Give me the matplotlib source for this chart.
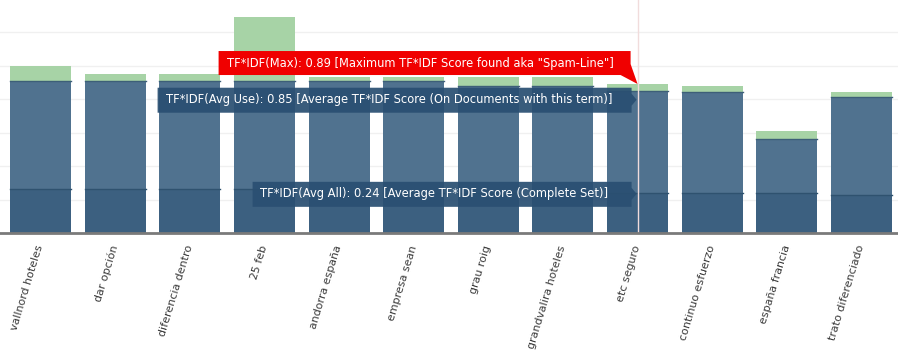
import matplotlib
matplotlib.use('Agg')
import matplotlib.pyplot as plt
from matplotlib.patches import Polygon
from matplotlib.transforms import IdentityTransform

terms = ['vallnord hoteles', 'dar opción', 'diferencia dentro', '25 feb',
         'andorra españa', 'empresa sean', 'grau roig', 'grandvalira hoteles',
         'etc seguro', 'continuo esfuerzo', 'españa francia', 'trato diferenciado']
tfidf_max = [1.00, 0.95, 0.95, 1.29, 0.93, 0.93, 0.93, 0.93, 0.89, 0.88, 0.61, 0.84]
tfidf_avg_use = [0.91, 0.91, 0.91, 0.91, 0.91, 0.91, 0.88, 0.88, 0.85, 0.84, 0.56, 0.81]
tfidf_avg_all = [0.26, 0.26, 0.26, 0.26, 0.24, 0.24, 0.24, 0.24, 0.24, 0.24, 0.24, 0.23]

hover = 8  # 'etc seguro'

W, H = 898, 357
fig = plt.figure(figsize=(W / 100, H / 100), dpi=100)
ax = fig.add_axes([0, 124 / H, 1, 233 / H])

x = list(range(len(terms)))
bw = 0.817
ax.bar(x, tfidf_max, width=bw, color='#a7d3a6', edgecolor='none', zorder=2)
ax.bar(x, tfidf_avg_use, width=bw, color='#50728f', edgecolor='none', zorder=3)
ax.bar(x, tfidf_avg_all, width=bw, color='#3c6080', edgecolor='none', zorder=4)
# darker top edges
for xi, u, a in zip(x, tfidf_avg_use, tfidf_avg_all):
    ax.plot([xi - bw / 2, xi + bw / 2], [u, u], color='#3d5f78', lw=1, zorder=5)
    ax.plot([xi - bw / 2, xi + bw / 2], [a, a], color='#2f526f', lw=1, zorder=5)

ax.set_xlim(-0.5426, 11.489)
ax.set_ylim(0, 1.392)
ax.set_yticks([0.2, 0.4, 0.6, 0.8, 1.0, 1.2])
ax.yaxis.grid(True, color='#f0f0f0', lw=1, zorder=0)
ax.tick_params(axis='y', left=False, labelleft=False)
ax.tick_params(axis='x', length=0, pad=9)
ax.set_xticks(x)
ax.set_xticklabels(terms, rotation=73, ha='right', va='center',
                   rotation_mode='anchor', fontsize=7.9, color='#3a3a3a')
for s in ['top', 'right', 'left']:
    ax.spines[s].set_visible(False)
ax.spines['bottom'].set_color('#7a7a7a')
ax.spines['bottom'].set_linewidth(2)
ax.spines['bottom'].set_zorder(6)

# crosshair on hovered term
ax.axvline(hover, color='#f1dcdc', lw=1, zorder=6)


def callout(value, verts, color, alpha, text, text_dx, text_dy):
    px, py = ax.transData.transform((hover, value))
    pts = [(px + dx, py + dy) for dx, dy in verts]
    fig.patches.append(Polygon(pts, closed=True, facecolor=color, edgecolor='none',
                               alpha=alpha, transform=IdentityTransform(),
                               figure=fig, zorder=10))
    fig.text((px + text_dx) / W, (py + text_dy) / H, text, color='white',
             fontsize=8.3, va='center', ha='left', zorder=11)


fig.canvas.draw()
callout(tfidf_max[hover],
        [(-419, 33), (-7, 33), (-7, 20), (0, 0), (-17, 9), (-419, 9)],
        '#f00000', 1.0,
        'TF*IDF(Max): %.2f [Maximum TF*IDF Score found aka "Spam-Line"]' % tfidf_max[hover],
        -411, 21)
callout(tfidf_avg_use[hover],
        [(-480, 3), (-6, 3), (-6, -3), (-1, -9), (-6, -15), (-6, -22), (-480, -22)],
        '#2a4f72', 0.93,
        'TF*IDF(Avg Use): %.2f [Average TF*IDF Score (On Documents with this term)]' % tfidf_avg_use[hover],
        -472, -9)
callout(tfidf_avg_all[hover],
        [(-385, 11), (-6, 11), (-6, 5), (-1, -1), (-6, -7), (-6, -14), (-385, -14)],
        '#2a4f72', 0.93,
        'TF*IDF(Avg All): %.2f [Average TF*IDF Score (Complete Set)]' % tfidf_avg_all[hover],
        -378, -1)

fig.savefig('out.png', dpi=100)
